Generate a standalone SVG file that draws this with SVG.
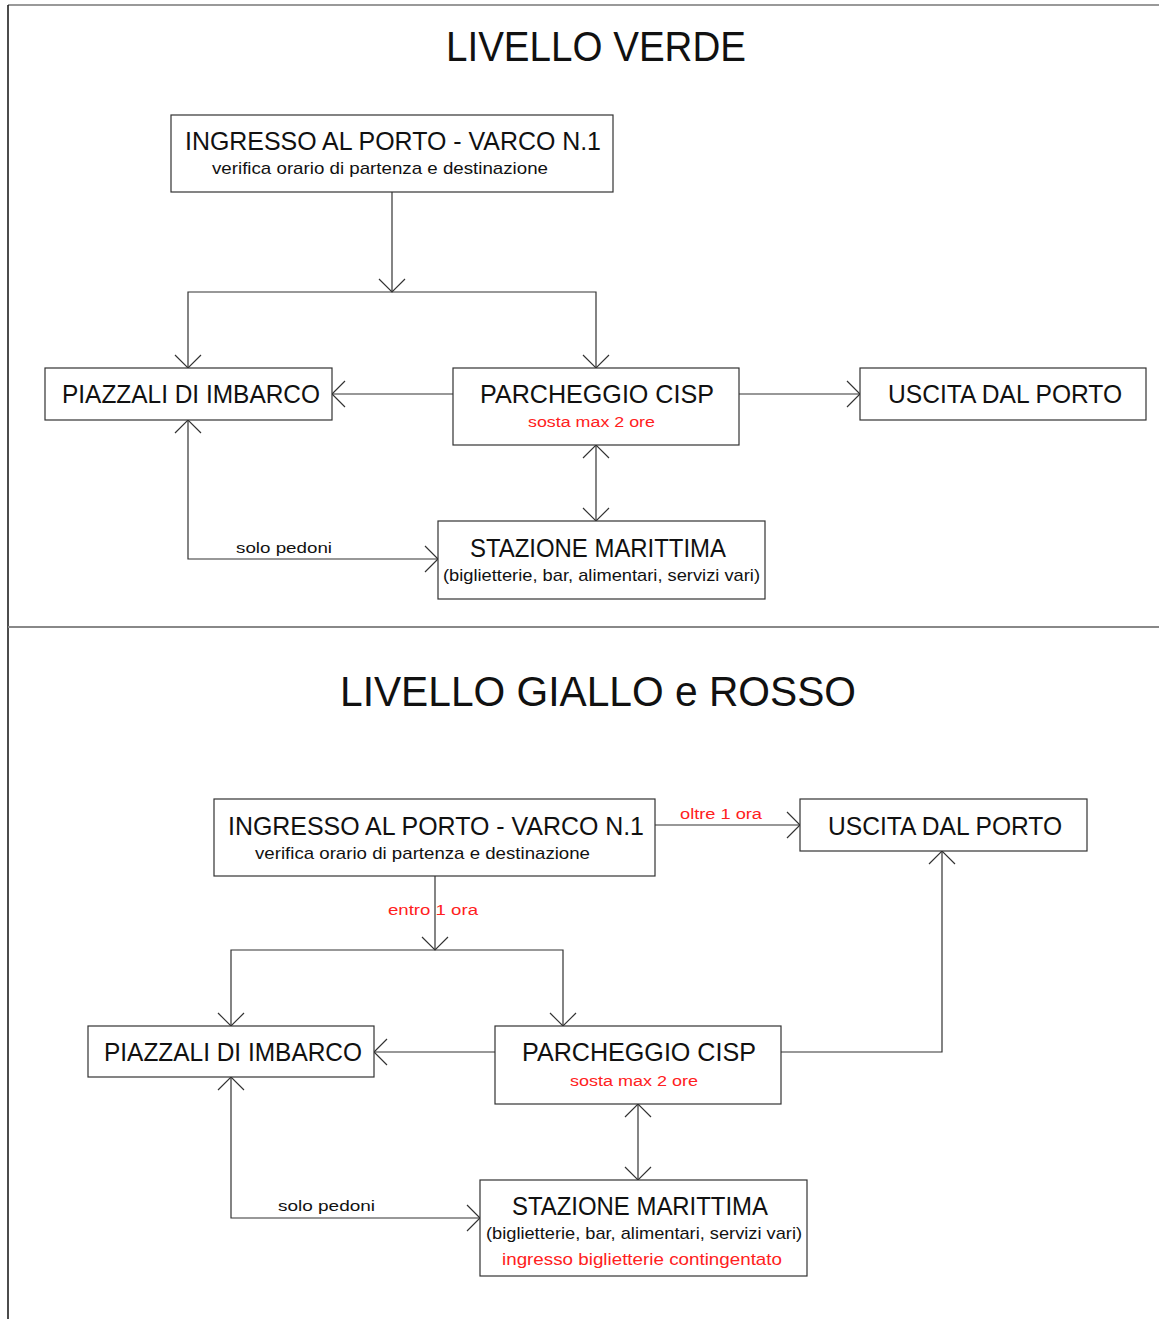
<svg xmlns="http://www.w3.org/2000/svg" width="1159" height="1319" viewBox="0 0 1159 1319">
<style>
.box{fill:#fff;stroke:#333;stroke-width:1.2}
.ln{fill:none;stroke:#333;stroke-width:1.2}
text{font-family:"Liberation Sans",Arial,sans-serif;fill:#111}
.title{font-size:42px}
.main{font-size:25px}
.sub{font-size:17px}
.small{font-size:15.5px}
.red{fill:#ff2020}
</style>
<defs>
<marker id="arr" viewBox="-14 -14 16 28" refX="0" refY="0" markerWidth="16" markerHeight="28" markerUnits="userSpaceOnUse" orient="auto-start-reverse">
<path d="M-13,-13 L0,0 L-13,13" fill="none" stroke="#333" stroke-width="1.2"/>
</marker>
</defs>
<rect width="1159" height="1319" fill="#fff"/>
<g id="frame">
<line x1="8" y1="5" x2="1159" y2="5" stroke="#777" stroke-width="1.5"/>
<line x1="8" y1="5" x2="8" y2="1319" stroke="#111" stroke-width="1.5"/>
<line x1="8" y1="627" x2="1159" y2="627" stroke="#888" stroke-width="2"/>
</g>
<g id="titles">
<text class="title" x="596" y="61" text-anchor="middle" textLength="300" lengthAdjust="spacingAndGlyphs">LIVELLO VERDE</text>
<text class="title" x="598" y="706" text-anchor="middle" textLength="516" lengthAdjust="spacingAndGlyphs">LIVELLO GIALLO e ROSSO</text>
</g>
<g id="connectors">
<path class="ln" d="M392,192 V292" marker-end="url(#arr)"/>
<path class="ln" d="M188,368 V292 H596 V368" marker-start="url(#arr)" marker-end="url(#arr)"/>
<path class="ln" d="M453,394 H332" marker-end="url(#arr)"/>
<path class="ln" d="M739,394 H860" marker-end="url(#arr)"/>
<path class="ln" d="M596,445 V521" marker-start="url(#arr)" marker-end="url(#arr)"/>
<path class="ln" d="M188,420 V559 H438" marker-start="url(#arr)" marker-end="url(#arr)"/>
<text class="small" x="236" y="553" textLength="96" lengthAdjust="spacingAndGlyphs">solo pedoni</text>

<path class="ln" d="M655,825 H800" marker-end="url(#arr)"/>
<text class="small red" x="680" y="819" textLength="82" lengthAdjust="spacingAndGlyphs">oltre 1 ora</text>
<path class="ln" d="M435,876 V950" marker-end="url(#arr)"/>
<text class="small red" x="388" y="915" textLength="90" lengthAdjust="spacingAndGlyphs">entro 1 ora</text>
<path class="ln" d="M231,1026 V950 H563 V1026" marker-start="url(#arr)" marker-end="url(#arr)"/>
<path class="ln" d="M495,1052 H374" marker-end="url(#arr)"/>
<path class="ln" d="M781,1052 H942 V851" marker-end="url(#arr)"/>
<path class="ln" d="M638,1104 V1180" marker-start="url(#arr)" marker-end="url(#arr)"/>
<path class="ln" d="M231,1077 V1218 H480" marker-start="url(#arr)" marker-end="url(#arr)"/>
<text class="small" x="278" y="1211" textLength="97" lengthAdjust="spacingAndGlyphs">solo pedoni</text>
</g>
<g id="v-ingresso">
<rect class="box" x="171" y="115" width="442" height="77"/>
<text class="main" x="185" y="150" textLength="416" lengthAdjust="spacingAndGlyphs">INGRESSO AL PORTO - VARCO N.1</text>
<text class="sub" x="212" y="174" textLength="336" lengthAdjust="spacingAndGlyphs">verifica orario di partenza e destinazione</text>
</g>
<g id="v-piazzali">
<rect class="box" x="45" y="368" width="287" height="52"/>
<text class="main" x="62" y="403" textLength="258" lengthAdjust="spacingAndGlyphs">PIAZZALI DI IMBARCO</text>
</g>
<g id="v-parcheggio">
<rect class="box" x="453" y="368" width="286" height="77"/>
<text class="main" x="480" y="403" textLength="234" lengthAdjust="spacingAndGlyphs">PARCHEGGIO CISP</text>
<text class="small red" x="528" y="427" textLength="127" lengthAdjust="spacingAndGlyphs">sosta max 2 ore</text>
</g>
<g id="v-uscita">
<rect class="box" x="860" y="368" width="286" height="52"/>
<text class="main" x="888" y="403" textLength="234" lengthAdjust="spacingAndGlyphs">USCITA DAL PORTO</text>
</g>
<g id="v-stazione">
<rect class="box" x="438" y="521" width="327" height="78"/>
<text class="main" x="470" y="557" textLength="256" lengthAdjust="spacingAndGlyphs">STAZIONE MARITTIMA</text>
<text class="sub" x="443" y="581" textLength="317" lengthAdjust="spacingAndGlyphs">(biglietterie, bar, alimentari, servizi vari)</text>
</g>
<g id="g-ingresso">
<rect class="box" x="214" y="799" width="441" height="77"/>
<text class="main" x="228" y="835" textLength="416" lengthAdjust="spacingAndGlyphs">INGRESSO AL PORTO - VARCO N.1</text>
<text class="sub" x="255" y="859" textLength="335" lengthAdjust="spacingAndGlyphs">verifica orario di partenza e destinazione</text>
</g>
<g id="g-uscita">
<rect class="box" x="800" y="799" width="287" height="52"/>
<text class="main" x="828" y="835" textLength="234" lengthAdjust="spacingAndGlyphs">USCITA DAL PORTO</text>
</g>
<g id="g-piazzali">
<rect class="box" x="88" y="1026" width="286" height="51"/>
<text class="main" x="104" y="1061" textLength="258" lengthAdjust="spacingAndGlyphs">PIAZZALI DI IMBARCO</text>
</g>
<g id="g-parcheggio">
<rect class="box" x="495" y="1026" width="286" height="78"/>
<text class="main" x="522" y="1061" textLength="234" lengthAdjust="spacingAndGlyphs">PARCHEGGIO CISP</text>
<text class="small red" x="570" y="1086" textLength="128" lengthAdjust="spacingAndGlyphs">sosta max 2 ore</text>
</g>
<g id="g-stazione">
<rect class="box" x="480" y="1180" width="327" height="96"/>
<text class="main" x="512" y="1215" textLength="256" lengthAdjust="spacingAndGlyphs">STAZIONE MARITTIMA</text>
<text class="sub" x="486" y="1239" textLength="316" lengthAdjust="spacingAndGlyphs">(biglietterie, bar, alimentari, servizi vari)</text>
<text class="sub red" x="502" y="1265" textLength="280" lengthAdjust="spacingAndGlyphs">ingresso biglietterie contingentato</text>
</g>
</svg>
